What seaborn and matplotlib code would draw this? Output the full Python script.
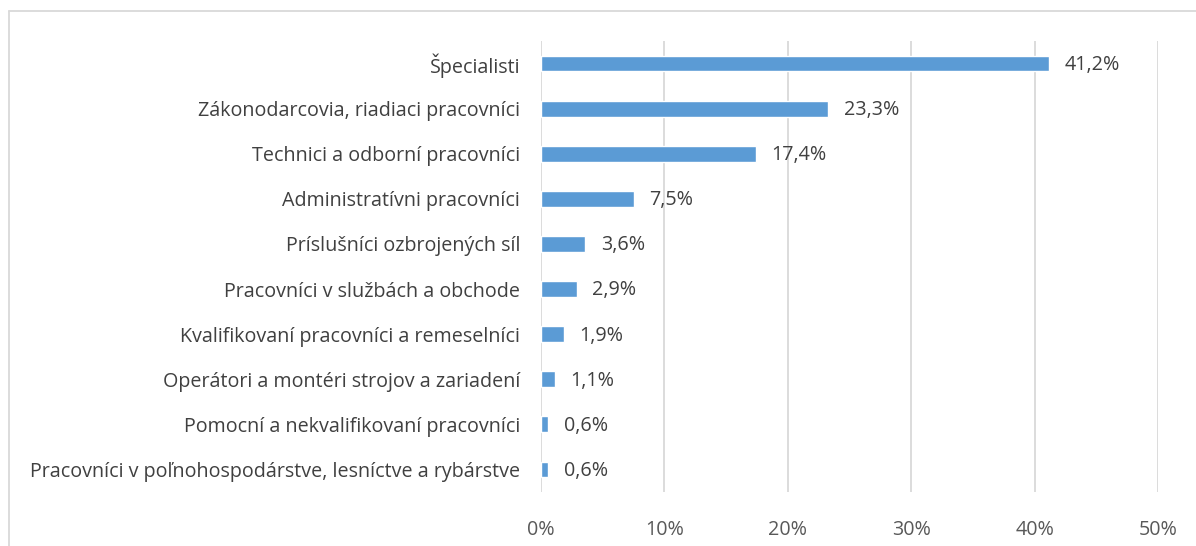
import matplotlib
matplotlib.use("Agg")
import matplotlib.pyplot as plt
from matplotlib.lines import Line2D
import pandas as pd
import seaborn as sns

# ── Données ─────────────────────────────────────────────────────────────────
categories = [
    "Špecialisti",
    "Zákonodarcovia, riadiaci pracovníci",
    "Technici a odborní pracovníci",
    "Administratívni pracovníci",
    "Príslušníci ozbrojených síl",
    "Pracovníci v službách a obchode",
    "Kvalifikovaní pracovníci a remeselníci",
    "Operátori a montéri strojov a zariadení",
    "Pomocní a nekvalifikovaní pracovníci",
    "Pracovníci v poľnohospodárstve, lesníctve a rybárstve",
]
values = [41.2, 23.3, 17.4, 7.5, 3.6, 2.9, 1.9, 1.1, 0.6, 0.6]
x_ticks = [0, 10, 20, 30, 40, 50]

df = pd.DataFrame({"kategoria": categories, "podiel": values})

sns.set_theme(style="white")
plt.rcParams["font.family"] = ["Open Sans", "DejaVu Sans"]

BAR_COLOR = "#5B9BD5"
TEXT_COLOR = "#404040"
GRID_COLOR = "#D9D9D9"
FS = 14.2

fig = plt.figure(figsize=(11.96, 5.46), dpi=100)
ax = fig.add_axes([0.4523, 0.0989, 0.5159, 0.826])

sns.barplot(data=df, x="podiel", y="kategoria", color=BAR_COLOR,
            width=0.35, saturation=1, ax=ax)

ax.set_xlim(0, 50)
ax.set_xticks(x_ticks)
ax.set_xticklabels([f"{t}%" for t in x_ticks])
ax.set_xlabel("")
ax.set_ylabel("")
ax.xaxis.grid(True, color=GRID_COLOR, linewidth=1.3)
ax.set_axisbelow(True)
for s in ax.spines.values():
    s.set_visible(False)
ax.tick_params(axis="x", length=0, pad=20, labelsize=FS, labelcolor="#595959")
ax.tick_params(axis="y", length=0, pad=15, labelsize=FS, labelcolor=TEXT_COLOR)

# Étiquettes de valeurs
for i, v in enumerate(values):
    ax.annotate(f"{v:.1f}%".replace(".", ","), (v, i), xytext=(11, -1),
                textcoords="offset points", va="center", ha="left",
                fontsize=FS, color=TEXT_COLOR)

# Cadre du graphique (gauche + haut)
W, H = 1196, 546
fig.add_artist(Line2D([9 / W, 9 / W], [0, 1 - 11 / H], transform=fig.transFigure,
                      color=GRID_COLOR, linewidth=1.3))
fig.add_artist(Line2D([9 / W, 1], [1 - 11 / H, 1 - 11 / H], transform=fig.transFigure,
                      color=GRID_COLOR, linewidth=1.3))

fig.savefig("out.png", dpi=100)
